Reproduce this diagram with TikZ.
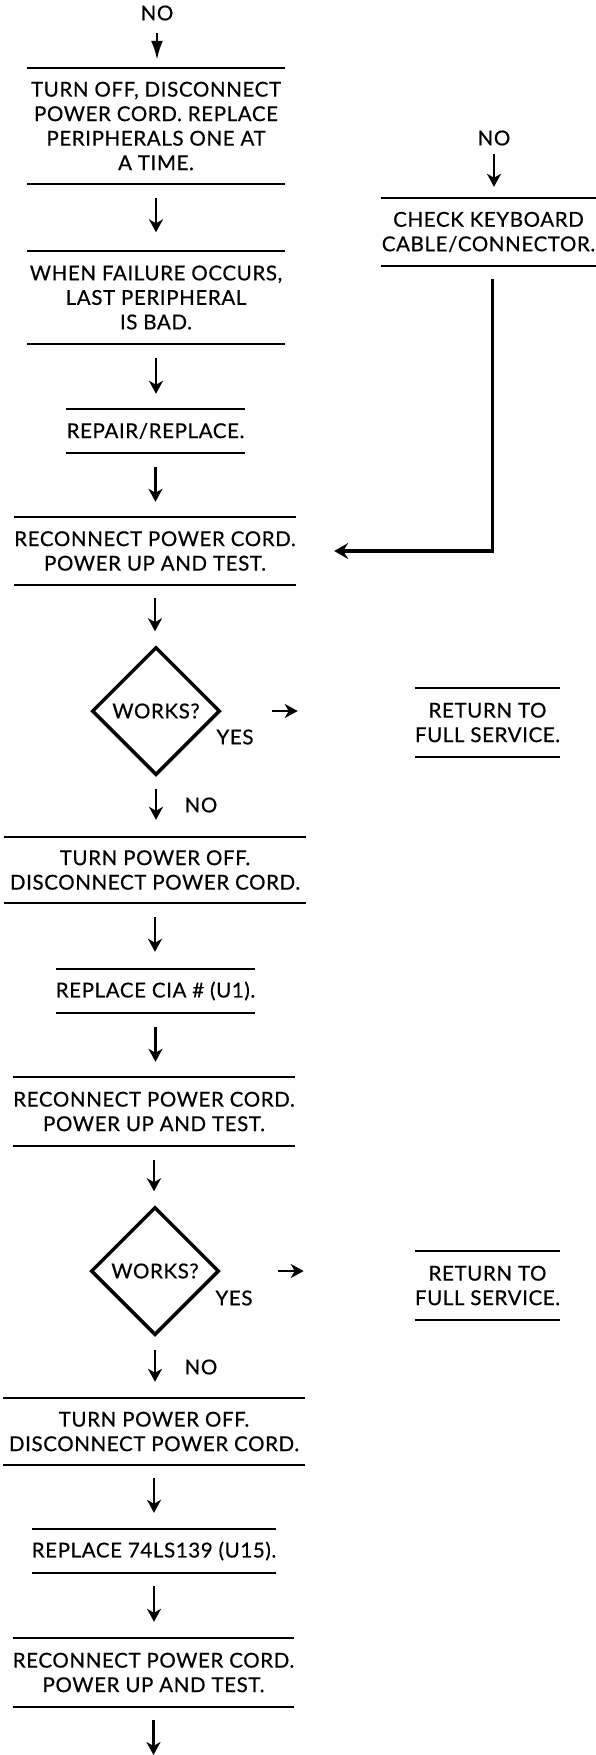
\documentclass[tikz,border=0pt]{standalone}
\usepackage{fontspec}
\setmainfont[LetterSpace=3, FakeBold=0.5]{Lato}
\usetikzlibrary{shapes.geometric,arrows.meta}
\begin{document}
\begin{tikzpicture}[x=1pt,y=-1pt,
  every node/.style={inner sep=0pt},
  txt/.style={font=\fontsize{20.5}{24.5}\selectfont, align=center},
  stepbox/.style={txt},
  rule/.style={line width=1.7pt},
  arr/.style={line width=2.5pt, -{Stealth[length=13pt,width=14pt,inset=4pt]}},
  toparr/.style={line width=2.5pt, -{Latex[length=19pt,width=12pt]}},
  fb/.style={line width=3.5pt, -{Stealth[length=14pt,width=16pt,inset=5pt]}},
  dia/.style={diamond, draw, line width=3.5pt, minimum width=128pt, minimum height=128pt, txt}
]
\useasboundingbox (0,0) rectangle (596,1755);

% main column
\node[txt] (no0) at (157,13) {NO};
\node[stepbox, minimum width=258pt, minimum height=116pt] (b1) at (156,126)
  {TURN OFF, DISCONNECT\\POWER CORD. REPLACE\\PERIPHERALS ONE AT\\A TIME.};
\node[stepbox, minimum width=258pt, minimum height=92pt] (b2) at (156,297.5)
  {WHEN FAILURE OCCURS,\\LAST PERIPHERAL\\IS BAD.};
\node[stepbox, minimum width=171pt, minimum height=44pt] (b3) at (155.5,431)
  {REPAIR/REPLACE.};
\node[stepbox, minimum width=282pt, minimum height=68pt] (b4) at (155,551)
  {RECONNECT POWER CORD.\\POWER UP AND TEST.};
\node[dia] (d1) at (156,711) {WORKS?};
\node[txt] (yes1) at (235,737) {YES};
\node[stepbox, minimum width=129pt, minimum height=69pt] (r1) at (487.5,722.5)
  {RETURN TO\\FULL SERVICE.};
\node[txt] (no2) at (201,805) {NO};
\node[stepbox, minimum width=302pt, minimum height=66pt] (b5) at (155,870)
  {TURN POWER OFF.\\DISCONNECT POWER CORD.};
\node[stepbox, minimum width=193pt, minimum height=44pt] (b6) at (155.5,991)
  {REPLACE CIA \# (U1).};
\node[stepbox, minimum width=282pt, minimum height=69pt] (b7) at (154,1111.5)
  {RECONNECT POWER CORD.\\POWER UP AND TEST.};
\node[dia] (d2) at (155,1271) {WORKS?};
\node[txt] (yes2) at (234,1298) {YES};
\node[stepbox, minimum width=129pt, minimum height=69pt] (r2) at (487.5,1285.5)
  {RETURN TO\\FULL SERVICE.};
\node[txt] (no3) at (201,1367) {NO};
\node[stepbox, minimum width=302pt, minimum height=67pt] (b8) at (154,1431.5)
  {TURN POWER OFF.\\DISCONNECT POWER CORD.};
\node[stepbox, minimum width=238pt, minimum height=44pt] (b9) at (154,1551)
  {REPLACE 74LS139 (U15).};
\node[stepbox, minimum width=281pt, minimum height=69pt] (b10) at (153.5,1672.5)
  {RECONNECT POWER CORD.\\POWER UP AND TEST.};
\coordinate (end) at (153.5,1755);

% right column
\node[txt] (no1) at (494,138) {NO};
\node[stepbox, minimum width=215pt, minimum height=68pt] (kb) at (488.5,232)
  {CHECK KEYBOARD\\CABLE/CONNECTOR.};

% rules above and below each step
\foreach \n in {b1,b2,b3,b4,r1,b5,b6,b7,r2,b8,b9,b10,kb}
  \draw[rule] (\n.north west) -- (\n.north east) (\n.south west) -- (\n.south east);

% connectors
\draw[toparr, shorten <=12pt, shorten >=8pt] (no0.south) -- (no0.south |- b1.north);
\draw[arr, shorten <=14pt, shorten >=19pt] (b1.south) -- (b1.south |- b2.north);
\draw[arr, shorten <=14pt, shorten >=15pt] (b2.south) -- (b2.south |- b3.north);
\draw[arr, shorten <=14pt, shorten >=15pt] (b3.south) -- (b3.south |- b4.north);
\draw[arr, shorten <=13pt, shorten >=14pt] (b4.south) -- (b4.south |- d1.north);
\draw[arr, shorten <=50pt, shorten >=117pt] (d1.east) -- (d1.east -| r1.west);
\draw[arr, shorten <=12pt, shorten >=17pt] (d1.south) -- (d1.south |- b5.north);
\draw[arr, shorten <=14pt, shorten >=17pt] (b5.south) -- (b5.south |- b6.north);
\draw[arr, shorten <=14pt, shorten >=15pt] (b6.south) -- (b6.south |- b7.north);
\draw[arr, shorten <=14pt, shorten >=14pt] (b7.south) -- (b7.south |- d2.north);
\draw[arr, shorten <=57pt, shorten >=111pt] (d2.east) -- (d2.east -| r2.west);
\draw[arr, shorten <=13pt, shorten >=16pt] (d2.south) -- (d2.south |- b8.north);
\draw[arr, shorten <=13pt, shorten >=16pt] (b8.south) -- (b8.south |- b9.north);
\draw[arr, shorten <=13pt, shorten >=16pt] (b9.south) -- (b9.south |- b10.north);
\draw[arr, shorten <=13pt] (b10.south) -- (end);

\draw[arr, shorten <=8pt, shorten >=11pt] (no1.south) -- (no1.south |- kb.north);
\draw[fb, shorten <=13pt] ([xshift=4pt]kb.south) |- ([xshift=38pt]b4.east);
\end{tikzpicture}
\end{document}
